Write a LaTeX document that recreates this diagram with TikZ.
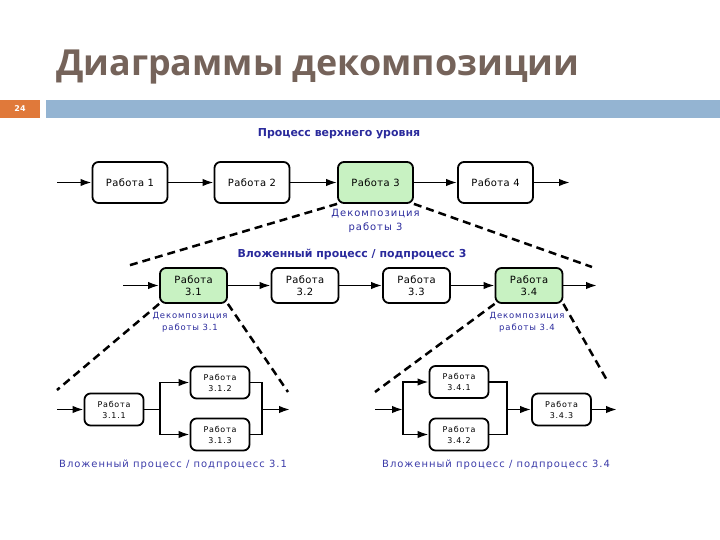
\documentclass[tikz,border=0pt]{standalone}
\usepackage{fontspec}
\setmainfont{DejaVu Sans}
\newfontfamily\titlefont{Open Sans}
\newfontfamily\boxfont[LetterSpace=4]{DejaVu Sans}
\newfontfamily\spfont[LetterSpace=10]{DejaVu Sans}
\usetikzlibrary{arrows.meta}
\definecolor{titlecol}{HTML}{75635A}
\definecolor{barblue}{HTML}{94B4D2}
\definecolor{pgorange}{HTML}{E0793A}
\definecolor{boxgreen}{HTML}{C8F2C2}
\definecolor{lblblue}{HTML}{2A2A9C}
\definecolor{capblue}{HTML}{3A3AA8}
\tikzset{
  work/.style={draw, line width=1.8bp, rounded corners=6bp, fill=white, align=center, inner sep=1bp},
  topbox/.style={work, minimum width=75bp, minimum height=41bp, font=\boxfont\fontsize{10}{12}\selectfont},
  midbox/.style={work, minimum width=67bp, minimum height=35bp, font=\boxfont\fontsize{10}{11.5}\selectfont},
  lowbox/.style={work, minimum width=59bp, minimum height=32bp, font=\spfont\fontsize{8}{11}\selectfont},
  greenbox/.style={fill=boxgreen},
  flow/.style={line width=1.8bp, -{Latex[length=11bp,width=7.5bp]}},
  plain/.style={line width=1.8bp},
  dashline/.style={line width=2.5bp, dash pattern=on 8bp off 5bp},
  headlbl/.style={font=\bfseries\fontsize{11}{13}\selectfont, text=lblblue, inner sep=0pt},
  declbl/.style={text=lblblue, align=center, inner sep=0pt},
  caplbl/.style={font=\spfont\fontsize{10}{12}\selectfont, text=capblue, inner sep=0pt},
}
\begin{document}
\begin{tikzpicture}[x=1bp,y=-1bp]
\useasboundingbox (0,0) rectangle (720,540);
% header
\node[anchor=base west, inner sep=0pt, text=titlecol, font=\titlefont\bfseries\fontsize{36}{40}\selectfont] (title) at (56,76) {Диаграммы декомпозиции};
\node[fill=pgorange, minimum width=40bp, minimum height=18bp, inner sep=0pt, text=white, font=\bfseries\fontsize{8}{9}\selectfont] (pg) at (20,109) {24};
\fill[barblue] (46,100) rectangle (720,118);
% top level
\node[headlbl] (h1) at (339,134) {Процесс верхнего уровня};
\node[topbox] (w1) at (130,182.5) {Работа 1};
\node[topbox] (w2) at (252,182.5) {Работа 2};
\node[topbox, greenbox] (w3) at (375.5,182.5) {Работа 3};
\node[topbox] (w4) at (495.5,182.5) {Работа 4};
\coordinate (in0) at (57,182.5);
\coordinate (out0) at (570,182.5);
\draw[flow] (in0) -- (w1);
\draw[flow] (w1) -- (w2);
\draw[flow] (w2) -- (w3);
\draw[flow] (w3) -- (w4);
\draw[flow] (w4) -- (out0);
\node[declbl, font=\spfont\fontsize{10}{13.5}\selectfont] (d3) at (375.5,221) {Декомпозиция\\работы 3};
\coordinate (dl3) at (127,266);
\coordinate (dr3) at (592,267);
\draw[dashline] (w3.south west) -- (dl3);
\draw[dashline] (w3.south east) -- (dr3);
% middle level
\node[headlbl] (h2) at (352,254) {Вложенный процесс / подпроцесс 3};
\node[midbox, greenbox] (m1) at (193.5,285.5) {Работа\\3.1};
\node[midbox] (m2) at (305,285.5) {Работа\\3.2};
\node[midbox] (m3) at (416.5,285.5) {Работа\\3.3};
\node[midbox, greenbox] (m4) at (529,285.5) {Работа\\3.4};
\coordinate (in1) at (123,285.5);
\coordinate (out1) at (597,285.5);
\draw[flow] (in1) -- (m1);
\draw[flow] (m1) -- (m2);
\draw[flow] (m2) -- (m3);
\draw[flow] (m3) -- (m4);
\draw[flow] (m4) -- (out1);
\node[declbl, font=\spfont\fontsize{8.5}{12.5}\selectfont] (d31) at (190,322.5) {Декомпозиция\\работы 3.1};
\node[declbl, font=\spfont\fontsize{8.5}{12.5}\selectfont] (d34) at (527,322.5) {Декомпозиция\\работы 3.4};
\coordinate (dl31) at (57,390);
\coordinate (dr31) at (288,392);
\coordinate (dl34) at (375,392);
\coordinate (dr34) at (608,382);
\draw[dashline] (m1.south west) -- (dl31);
\draw[dashline] (m1.south east) -- (dr31);
\draw[dashline] (m4.south west) -- (dl34);
\draw[dashline] (m4.south east) -- (dr34);
% bottom left
\node[lowbox] (b1) at (114,409.5) {Работа\\3.1.1};
\node[lowbox] (b2) at (220,382.5) {Работа\\3.1.2};
\node[lowbox] (b3) at (220,434.5) {Работа\\3.1.3};
\coordinate (in2) at (57,409.5);
\coordinate (s2) at (160,409.5);
\coordinate (j2) at (262,409.5);
\coordinate (out2) at (290,409.5);
\draw[flow] (in2) -- (b1);
\draw[plain] (b1) -- (s2);
\draw[flow] (s2) |- (b2);
\draw[flow] (s2) |- (b3);
\draw[plain] (b2) -| (j2);
\draw[plain] (b3) -| (j2);
\draw[flow] (j2) -- (out2);
\node[caplbl] (c31) at (173,465) {Вложенный процесс / подпроцесс 3.1};
% bottom right
\node[lowbox] (b4) at (459,382) {Работа\\3.4.1};
\node[lowbox] (b5) at (459,434.5) {Работа\\3.4.2};
\node[lowbox] (b6) at (561.5,409.5) {Работа\\3.4.3};
\coordinate (in3) at (375,409.5);
\coordinate (s3) at (403,409.5);
\coordinate (j3) at (507,409.5);
\coordinate (out3) at (617,409.5);
\draw[flow] (in3) -- (s3);
\draw[flow] (s3) |- (b4);
\draw[flow] (s3) |- (b5);
\draw[plain] (b4) -| (j3);
\draw[plain] (b5) -| (j3);
\draw[flow] (j3) -- (b6);
\draw[flow] (b6) -- (out3);
\node[caplbl] (c34) at (496,465) {Вложенный процесс / подпроцесс 3.4};
\end{tikzpicture}
\end{document}
